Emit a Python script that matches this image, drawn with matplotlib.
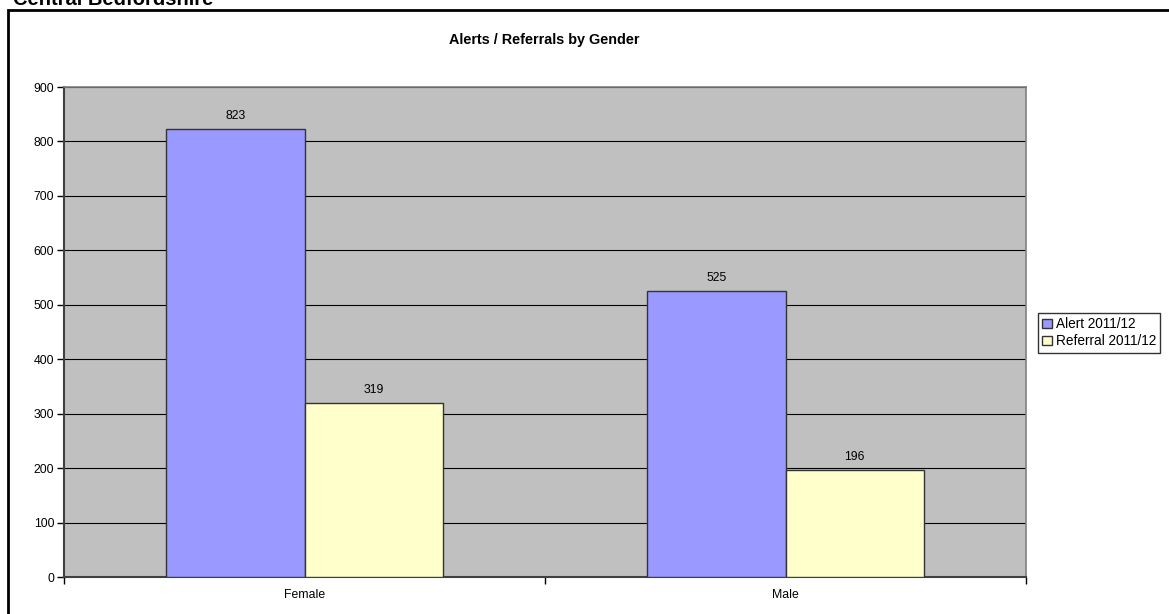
import matplotlib
matplotlib.use("Agg")
import matplotlib.pyplot as plt
from matplotlib.patches import Patch, Rectangle
import numpy as np

plt.rcParams["font.family"] = ["Liberation Sans", "DejaVu Sans"]

categories = ["Female", "Male"]
alert = [823, 525]
referral = [319, 196]
series_names = ["Alert 2011/12", "Referral 2011/12"]
yticks = [0, 100, 200, 300, 400, 500, 600, 700, 800, 900]

W, H = 1169, 614
fig = plt.figure(figsize=(W / 100, H / 100), dpi=100)

# page header (cut off at the top, as in the source)
fig.text(13 / W, 1 - 5 / H, "Central Bedfordshire", fontsize=14.5,
         fontweight="bold", va="baseline", ha="left")

# outer chart frame
fig.patches.append(Rectangle((8 / W, -0.05), 1.2, 1 - 10 / H + 0.05,
                             transform=fig.transFigure, fill=False,
                             edgecolor="black", linewidth=2))

fig.text(544 / W, 1 - 40 / H, "Alerts / Referrals by Gender", fontsize=10.4,
         fontweight="bold", ha="center", va="center")

ax = fig.add_axes([64 / W, (H - 577) / H, 962 / W, 490 / H])
ax.set_facecolor("#C0C0C0")

x = np.arange(len(categories))
w = 0.287
b1 = ax.bar(x - w / 2, alert, w, color="#9999FF", edgecolor="#333333",
            linewidth=1, zorder=3)
b2 = ax.bar(x + w / 2, referral, w, color="#FFFFCC", edgecolor="#333333",
            linewidth=1, zorder=3)

for bars in (b1, b2):
    for r in bars:
        ax.annotate(f"{int(r.get_height())}",
                    (r.get_x() + r.get_width() / 2, r.get_height()),
                    xytext=(0, 5), textcoords="offset points",
                    ha="center", va="bottom", fontsize=8.8)

ax.set_xlim(-0.5, len(categories) - 0.5)
ax.set_ylim(0, 900)
ax.set_yticks(yticks)
ax.yaxis.grid(True, color="black", linewidth=0.8, zorder=1)
ax.set_axisbelow(True)
ax.tick_params(axis="y", length=5, width=1, labelsize=8.8, pad=2)

ax.set_xticks(x)
ax.set_xticklabels(categories)
ax.set_xticks(np.arange(len(categories) + 1) - 0.5, minor=True)
ax.tick_params(axis="x", which="major", length=0, labelsize=8.8, pad=9)
ax.tick_params(axis="x", which="minor", length=5, width=1)

for s in ("top", "right"):
    ax.spines[s].set_color("#808080")
    ax.spines[s].set_linewidth(1.2)
for s in ("left", "bottom"):
    ax.spines[s].set_color("#404040")
    ax.spines[s].set_linewidth(1.5)

handles = [Patch(facecolor="#9999FF", edgecolor="#333333"),
           Patch(facecolor="#FFFFCC", edgecolor="#333333")]
leg = fig.legend(handles, series_names, loc="upper left",
                 bbox_to_anchor=(1038 / W, 1 - 313 / H), fontsize=9.8,
                 frameon=True, fancybox=False, handlelength=0.7,
                 handleheight=0.7, handletextpad=0.3, borderpad=0.3,
                 labelspacing=0.25, borderaxespad=0)
leg.get_frame().set_edgecolor("black")
leg.get_frame().set_linewidth(1)

fig.savefig("out.png", dpi=100)
